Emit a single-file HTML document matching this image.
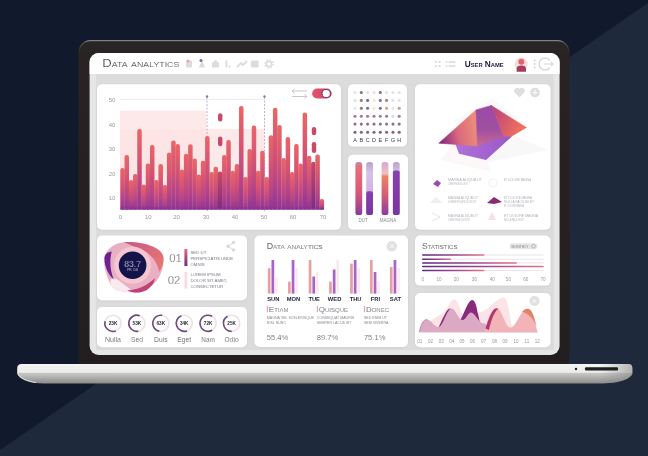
<!DOCTYPE html><html><head><meta charset="utf-8"><style>html,body{margin:0;padding:0;width:648px;height:456px;overflow:hidden;background:#111a2c}svg{display:block;will-change:transform}text{font-family:"Liberation Sans",sans-serif}</style></head><body>
<svg width="648" height="456" viewBox="0 0 648 456">
<defs>
<linearGradient id="gbar" x1="0" y1="0" x2="0" y2="1"><stop offset="0" stop-color="#ea6668"/><stop offset="0.4" stop-color="#d65472"/><stop offset="0.75" stop-color="#b44488"/><stop offset="1" stop-color="#8e3492"/></linearGradient>
<linearGradient id="gbard" x1="0" y1="0" x2="0" y2="1"><stop offset="0" stop-color="#c64a68"/><stop offset="1" stop-color="#7a2c80"/></linearGradient>
<linearGradient id="gbase" x1="0" y1="0" x2="0" y2="1"><stop offset="0" stop-color="#ebebeb"/><stop offset="0.5" stop-color="#e2e2e2"/><stop offset="0.62" stop-color="#b9b9b9"/><stop offset="1" stop-color="#8d8d8d"/></linearGradient>
<linearGradient id="gstat" x1="0" y1="0" x2="1" y2="0"><stop offset="0" stop-color="#5b2a86"/><stop offset="0.6" stop-color="#a84a94"/><stop offset="1" stop-color="#ea7884"/></linearGradient>
<linearGradient id="gbaseh" x1="0" y1="0" x2="1" y2="0"><stop offset="0" stop-color="#808080" stop-opacity="0.35"/><stop offset="0.05" stop-color="#808080" stop-opacity="0"/><stop offset="0.93" stop-color="#808080" stop-opacity="0"/><stop offset="1" stop-color="#707070" stop-opacity="0.45"/></linearGradient>
<linearGradient id="gtog" x1="0" y1="0" x2="1" y2="0"><stop offset="0" stop-color="#e8546a"/><stop offset="1" stop-color="#c8406a"/></linearGradient>
<linearGradient id="gtube1" x1="0" y1="0" x2="0" y2="1"><stop offset="0" stop-color="#f07a6a"/><stop offset="0.6" stop-color="#d0587a"/><stop offset="1" stop-color="#8a3aa0"/></linearGradient>
<linearGradient id="gtube2" x1="0" y1="0" x2="0" y2="1"><stop offset="0" stop-color="#8a40b0"/><stop offset="1" stop-color="#7a36a0"/></linearGradient>
<linearGradient id="gtubel" x1="0" y1="0" x2="0" y2="1"><stop offset="0" stop-color="#b8a0d0"/><stop offset="0.2" stop-color="#d8c0ea"/><stop offset="1" stop-color="#c8a0e0"/></linearGradient>
<linearGradient id="gvbar1" x1="0" y1="0" x2="0" y2="1"><stop offset="0" stop-color="#e46a7a"/><stop offset="1" stop-color="#6a2a8a"/></linearGradient>
<linearGradient id="gbez" x1="0" y1="0" x2="0" y2="1"><stop offset="0" stop-color="#272724"/><stop offset="0.06" stop-color="#2a2224"/><stop offset="1" stop-color="#221e1f"/></linearGradient>
<linearGradient id="grim" x1="0" y1="0" x2="0" y2="1"><stop offset="0" stop-color="#85827f"/><stop offset="0.15" stop-color="#5a5755"/><stop offset="1" stop-color="#2a2626"/></linearGradient>
<filter id="sh" x="-5%" y="-5%" width="110%" height="115%"><feDropShadow dx="0" dy="0.6" stdDeviation="0.8" flood-color="#000" flood-opacity="0.08"/></filter>
</defs>
<rect x="0" y="0" width="648" height="456" fill="#111a2c"/>
<polygon points="648,3 648,456 0,456 0,450" fill="#1f293c"/>
<rect x="78.5" y="40" width="491" height="330" rx="12" fill="url(#gbez)"/>
<path d="M79.2,52 A11.5,11.5 0 0 1 90.7,40.6 H557.3 A11.5,11.5 0 0 1 568.8,52" fill="none" stroke="url(#grim)" stroke-width="1.1"/>
<rect x="89.6" y="53" width="470" height="302" rx="9" fill="#e6e6e6"/>
<rect x="96" y="74" width="458" height="276" fill="#dcdcdc"/>
<path d="M89.6,74 V62 A9,9 0 0 1 98.6,53 H550.6 A9,9 0 0 1 559.6,62 V74 Z" fill="#ffffff"/>
<rect x="97" y="84.2" width="244" height="145.6" rx="5" fill="#ffffff" filter="url(#sh)"/>
<rect x="348" y="84.2" width="59" height="62.4" rx="5" fill="#ffffff" filter="url(#sh)"/>
<rect x="348" y="154.8" width="60" height="74.8" rx="5" fill="#ffffff" filter="url(#sh)"/>
<rect x="415" y="84.2" width="135.5" height="145.6" rx="5" fill="#ffffff" filter="url(#sh)"/>
<rect x="97" y="235.6" width="150" height="64.6" rx="5" fill="#ffffff" filter="url(#sh)"/>
<rect x="97" y="307" width="150" height="40.2" rx="5" fill="#ffffff" filter="url(#sh)"/>
<rect x="254.5" y="235.6" width="153.5" height="111.3" rx="5" fill="#ffffff" filter="url(#sh)"/>
<rect x="415" y="235.6" width="135.5" height="50" rx="5" fill="#ffffff" filter="url(#sh)"/>
<rect x="415" y="293" width="135.5" height="54.2" rx="5" fill="#ffffff" filter="url(#sh)"/>
<text x="102.3" y="67.4" font-size="10.4" fill="#1e1e24" stroke="#ffffff" stroke-width="0.2" style="font-variant:small-caps" textLength="77" lengthAdjust="spacingAndGlyphs">Data analytics</text>
<g fill="#dcdcdc"><rect x="186" y="60.5" width="6" height="7" rx="1"/><circle cx="188" cy="61" r="1.6" fill="#f0a0b0"/><path d="M199,67.5 L202,60 L205,67.5 Z"/><circle cx="201" cy="60.5" r="1.5" fill="#7a6aa0"/><path d="M212,67.5 V63 L215.5,60 L219,63 V67.5 Z"/><rect x="225.5" y="60.5" width="1.8" height="7"/><rect x="228.5" y="65.5" width="1.8" height="2"/></g>
<path d="M237,67 L241,63 L243,65 L247,61" stroke="#dcdcdc" stroke-width="1.8" fill="none"/>
<rect x="251" y="60.5" width="7.5" height="7" rx="1" fill="#dcdcdc"/>
<circle cx="269" cy="64" r="2.6" fill="none" stroke="#dcdcdc" stroke-width="1.6"/><circle cx="269" cy="64" r="4.2" fill="none" stroke="#dcdcdc" stroke-width="1.4" stroke-dasharray="1.6,1.7"/>
<g fill="#e2e2e2"><rect x="435" y="61" width="2" height="2"/><rect x="438.5" y="61" width="2" height="2"/><rect x="435" y="65" width="2" height="2"/><rect x="438.5" y="65" width="2" height="2"/><rect x="445.5" y="61" width="2" height="2"/><rect x="448.5" y="61" width="7" height="2"/><rect x="445.5" y="65" width="2" height="2"/><rect x="448.5" y="65" width="7" height="2"/></g>
<text x="464.7" y="67.1" font-size="8.6" font-weight="bold" fill="#1c1d40" style="font-variant:small-caps" textLength="39" lengthAdjust="spacingAndGlyphs">User Name</text>
<circle cx="521.2" cy="64.2" r="6.6" fill="#f2e0e0"/><circle cx="521.3" cy="61.8" r="3" fill="#e4646c"/><path d="M516.6,71.8 V68.8 Q516.6,65.6 521.3,65.6 Q526,65.6 526,68.8 V71.8 Z" fill="#a83a5c"/>
<g fill="#cfcfcf"><circle cx="534.6" cy="60.5" r="0.9"/><circle cx="534.6" cy="64" r="0.9"/><circle cx="534.6" cy="67.5" r="0.9"/></g>
<path d="M550,60.5 A6,6 0 1 0 550,67.5" fill="none" stroke="#d6d6d6" stroke-width="1.3"/><path d="M544,64 H553 M551,62 L553,64 L551,66" fill="none" stroke="#d6d6d6" stroke-width="1.2"/>
<rect x="120" y="110.6" width="86" height="99.1" fill="#fde9ea"/>
<rect x="120" y="129" width="144" height="80.7" fill="#fce3e5" opacity="0.8"/>
<line x1="120" y1="99.3" x2="264.5" y2="99.3" stroke="#e6e6ea" stroke-width="0.8"/>
<g stroke="#b0a0b4" stroke-width="0.8" stroke-dasharray="2,1.5"><line x1="207" y1="97" x2="207" y2="212"/><line x1="264.5" y1="97" x2="264.5" y2="212"/></g>
<g fill="#8a7aa8"><circle cx="207" cy="96.5" r="1.2"/><circle cx="264.5" cy="96.5" r="1.2"/></g>
<rect x="120.30" y="168.0" width="4.5" height="41.7" rx="2.1" fill="url(#gbar)"/>
<rect x="120.30" y="207.7" width="4.5" height="2" fill="#8c3592"/>
<rect x="124.54" y="155.0" width="4.5" height="54.7" rx="2.1" fill="url(#gbar)"/>
<rect x="124.54" y="207.7" width="4.5" height="2" fill="#8c3592"/>
<rect x="128.78" y="180.0" width="4.5" height="29.7" rx="2.1" fill="url(#gbar)"/>
<rect x="128.78" y="207.7" width="4.5" height="2" fill="#8c3592"/>
<rect x="133.02" y="174.0" width="4.5" height="35.7" rx="2.1" fill="url(#gbar)"/>
<rect x="133.02" y="207.7" width="4.5" height="2" fill="#8c3592"/>
<rect x="137.26" y="129.0" width="4.5" height="80.7" rx="2.1" fill="url(#gbar)"/>
<rect x="137.26" y="207.7" width="4.5" height="2" fill="#8c3592"/>
<rect x="141.50" y="184.5" width="4.5" height="25.2" rx="2.1" fill="url(#gbar)"/>
<rect x="141.50" y="207.7" width="4.5" height="2" fill="#8c3592"/>
<rect x="145.74" y="163.4" width="4.5" height="46.3" rx="2.1" fill="url(#gbar)"/>
<rect x="145.74" y="207.7" width="4.5" height="2" fill="#8c3592"/>
<rect x="149.98" y="145.0" width="4.5" height="64.7" rx="2.1" fill="url(#gbar)"/>
<rect x="149.98" y="207.7" width="4.5" height="2" fill="#8c3592"/>
<rect x="154.22" y="180.0" width="4.5" height="29.7" rx="2.1" fill="url(#gbar)"/>
<rect x="154.22" y="207.7" width="4.5" height="2" fill="#8c3592"/>
<rect x="158.46" y="164.0" width="4.5" height="45.7" rx="2.1" fill="url(#gbar)"/>
<rect x="158.46" y="207.7" width="4.5" height="2" fill="#8c3592"/>
<rect x="162.70" y="185.0" width="4.5" height="24.7" rx="2.1" fill="url(#gbar)"/>
<rect x="162.70" y="207.7" width="4.5" height="2" fill="#8c3592"/>
<rect x="166.94" y="152.5" width="4.5" height="57.2" rx="2.1" fill="url(#gbar)"/>
<rect x="166.94" y="207.7" width="4.5" height="2" fill="#8c3592"/>
<rect x="171.18" y="140.5" width="4.5" height="69.2" rx="2.1" fill="url(#gbar)"/>
<rect x="171.18" y="207.7" width="4.5" height="2" fill="#8c3592"/>
<rect x="175.42" y="144.0" width="4.5" height="65.7" rx="2.1" fill="url(#gbar)"/>
<rect x="175.42" y="207.7" width="4.5" height="2" fill="#8c3592"/>
<rect x="179.66" y="169.5" width="4.5" height="40.2" rx="2.1" fill="url(#gbar)"/>
<rect x="179.66" y="207.7" width="4.5" height="2" fill="#8c3592"/>
<rect x="183.90" y="153.8" width="4.5" height="55.9" rx="2.1" fill="url(#gbar)"/>
<rect x="183.90" y="207.7" width="4.5" height="2" fill="#8c3592"/>
<rect x="188.14" y="144.2" width="4.5" height="65.5" rx="2.1" fill="url(#gbar)"/>
<rect x="188.14" y="207.7" width="4.5" height="2" fill="#8c3592"/>
<rect x="192.38" y="158.5" width="4.5" height="51.2" rx="2.1" fill="url(#gbar)"/>
<rect x="192.38" y="207.7" width="4.5" height="2" fill="#8c3592"/>
<rect x="196.62" y="174.4" width="4.5" height="35.3" rx="2.1" fill="url(#gbar)"/>
<rect x="196.62" y="207.7" width="4.5" height="2" fill="#8c3592"/>
<rect x="200.86" y="160.7" width="4.5" height="49.0" rx="2.1" fill="url(#gbar)"/>
<rect x="200.86" y="207.7" width="4.5" height="2" fill="#8c3592"/>
<rect x="205.10" y="136.0" width="4.5" height="73.7" rx="2.1" fill="url(#gbar)"/>
<rect x="205.10" y="207.7" width="4.5" height="2" fill="#8c3592"/>
<rect x="209.34" y="172.0" width="4.5" height="37.7" rx="2.1" fill="url(#gbar)"/>
<rect x="209.34" y="207.7" width="4.5" height="2" fill="#8c3592"/>
<rect x="213.58" y="166.7" width="4.5" height="43.0" rx="2.1" fill="url(#gbar)"/>
<rect x="213.58" y="207.7" width="4.5" height="2" fill="#8c3592"/>
<rect x="217.82" y="171.6" width="4.5" height="38.1" rx="2.1" fill="url(#gbard)"/>
<rect x="217.82" y="207.7" width="4.5" height="2" fill="#8c3592"/>
<rect x="222.06" y="155.0" width="4.5" height="54.7" rx="2.1" fill="url(#gbar)"/>
<rect x="222.06" y="207.7" width="4.5" height="2" fill="#8c3592"/>
<rect x="226.30" y="140.0" width="4.5" height="69.7" rx="2.1" fill="url(#gbar)"/>
<rect x="226.30" y="207.7" width="4.5" height="2" fill="#8c3592"/>
<rect x="230.54" y="170.8" width="4.5" height="38.9" rx="2.1" fill="url(#gbar)"/>
<rect x="230.54" y="207.7" width="4.5" height="2" fill="#8c3592"/>
<rect x="234.78" y="164.0" width="4.5" height="45.7" rx="2.1" fill="url(#gbar)"/>
<rect x="234.78" y="207.7" width="4.5" height="2" fill="#8c3592"/>
<rect x="239.02" y="106.0" width="4.5" height="103.7" rx="2.1" fill="url(#gbar)"/>
<rect x="239.02" y="207.7" width="4.5" height="2" fill="#8c3592"/>
<rect x="243.26" y="177.0" width="4.5" height="32.7" rx="2.1" fill="url(#gbar)"/>
<rect x="243.26" y="207.7" width="4.5" height="2" fill="#8c3592"/>
<rect x="247.50" y="149.0" width="4.5" height="60.7" rx="2.1" fill="url(#gbar)"/>
<rect x="247.50" y="207.7" width="4.5" height="2" fill="#8c3592"/>
<rect x="251.74" y="125.6" width="4.5" height="84.1" rx="2.1" fill="url(#gbar)"/>
<rect x="251.74" y="207.7" width="4.5" height="2" fill="#8c3592"/>
<rect x="255.98" y="170.8" width="4.5" height="38.9" rx="2.1" fill="url(#gbar)"/>
<rect x="255.98" y="207.7" width="4.5" height="2" fill="#8c3592"/>
<rect x="260.22" y="150.8" width="4.5" height="58.9" rx="2.1" fill="url(#gbar)"/>
<rect x="260.22" y="207.7" width="4.5" height="2" fill="#8c3592"/>
<rect x="264.46" y="177.0" width="4.5" height="32.7" rx="2.1" fill="url(#gbar)"/>
<rect x="264.46" y="207.7" width="4.5" height="2" fill="#8c3592"/>
<rect x="268.70" y="135.2" width="4.5" height="74.5" rx="2.1" fill="url(#gbar)"/>
<rect x="268.70" y="207.7" width="4.5" height="2" fill="#8c3592"/>
<rect x="272.94" y="107.8" width="4.5" height="101.9" rx="2.1" fill="url(#gbar)"/>
<rect x="272.94" y="207.7" width="4.5" height="2" fill="#8c3592"/>
<rect x="277.18" y="125.0" width="4.5" height="84.7" rx="2.1" fill="url(#gbar)"/>
<rect x="277.18" y="207.7" width="4.5" height="2" fill="#8c3592"/>
<rect x="281.42" y="158.0" width="4.5" height="51.7" rx="2.1" fill="url(#gbar)"/>
<rect x="281.42" y="207.7" width="4.5" height="2" fill="#8c3592"/>
<rect x="285.66" y="137.0" width="4.5" height="72.7" rx="2.1" fill="url(#gbar)"/>
<rect x="285.66" y="207.7" width="4.5" height="2" fill="#8c3592"/>
<rect x="289.90" y="172.0" width="4.5" height="37.7" rx="2.1" fill="url(#gbar)"/>
<rect x="289.90" y="207.7" width="4.5" height="2" fill="#8c3592"/>
<rect x="294.14" y="144.0" width="4.5" height="65.7" rx="2.1" fill="url(#gbar)"/>
<rect x="294.14" y="207.7" width="4.5" height="2" fill="#8c3592"/>
<rect x="298.38" y="163.4" width="4.5" height="46.3" rx="2.1" fill="url(#gbar)"/>
<rect x="298.38" y="207.7" width="4.5" height="2" fill="#8c3592"/>
<rect x="302.62" y="112.5" width="4.5" height="97.2" rx="2.1" fill="url(#gbar)"/>
<rect x="302.62" y="207.7" width="4.5" height="2" fill="#8c3592"/>
<rect x="306.86" y="155.8" width="4.5" height="53.9" rx="2.1" fill="url(#gbar)"/>
<rect x="306.86" y="207.7" width="4.5" height="2" fill="#8c3592"/>
<rect x="311.10" y="161.8" width="4.5" height="47.9" rx="2.1" fill="url(#gbard)"/>
<rect x="311.10" y="207.7" width="4.5" height="2" fill="#8c3592"/>
<rect x="315.34" y="154.4" width="4.5" height="55.3" rx="2.1" fill="url(#gbar)"/>
<rect x="315.34" y="207.7" width="4.5" height="2" fill="#8c3592"/>
<rect x="319.58" y="199.0" width="4.5" height="10.7" rx="2.1" fill="url(#gbar)"/>
<rect x="319.58" y="207.7" width="4.5" height="2" fill="#8c3592"/>
<g fill="#c84a68"><rect x="218" y="113.3" width="4.4" height="8.2" rx="2.2"/><rect x="218" y="136.6" width="4.4" height="9.6" rx="2.2"/><rect x="311.8" y="127" width="4.4" height="8.2" rx="2.2"/><rect x="311.8" y="142" width="4.4" height="11" rx="2.2"/></g>
<text x="112" y="101.8" font-size="6" fill="#9a9aa0" text-anchor="middle">50</text>
<text x="112" y="126.60000000000001" font-size="6" fill="#9a9aa0" text-anchor="middle">40</text>
<text x="112" y="151.0" font-size="6" fill="#9a9aa0" text-anchor="middle">30</text>
<text x="112" y="175.79999999999998" font-size="6" fill="#9a9aa0" text-anchor="middle">20</text>
<text x="112" y="200.2" font-size="6" fill="#9a9aa0" text-anchor="middle">10</text>
<text x="120.3" y="219.2" font-size="6" fill="#9a9aa0" text-anchor="middle">0</text>
<text x="148.3" y="219.2" font-size="6" fill="#9a9aa0" text-anchor="middle">10</text>
<text x="176.6" y="219.2" font-size="6" fill="#9a9aa0" text-anchor="middle">20</text>
<text x="206" y="219.2" font-size="6" fill="#9a9aa0" text-anchor="middle">30</text>
<text x="235" y="219.2" font-size="6" fill="#9a9aa0" text-anchor="middle">40</text>
<text x="264" y="219.2" font-size="6" fill="#9a9aa0" text-anchor="middle">50</text>
<text x="293" y="219.2" font-size="6" fill="#9a9aa0" text-anchor="middle">60</text>
<text x="323" y="219.2" font-size="6" fill="#9a9aa0" text-anchor="middle">70</text>
<rect x="312.1" y="88.5" width="19.6" height="10.1" rx="5.05" fill="url(#gtog)"/><circle cx="326.2" cy="93.55" r="4.1" fill="#fff" stroke="#6a2a60" stroke-width="0.9"/>
<g stroke="#c9c9c9" stroke-width="1" fill="none"><path d="M292,91 H307 M294.5,89 L292,91 L294.5,93"/><path d="M292,96.5 H307 M304.5,94.5 L307,96.5 L304.5,98.5"/></g>
<circle cx="355" cy="92.5" r="1.55" fill="#dfe6df"/>
<circle cx="361.3" cy="92.5" r="1.55" fill="#8a7088"/>
<circle cx="367.6" cy="92.5" r="1.55" fill="#e8e0d8"/>
<circle cx="374" cy="92.5" r="1.55" fill="#e6e0e6"/>
<circle cx="380.3" cy="92.5" r="1.55" fill="#8a6a8a"/>
<circle cx="386.6" cy="92.5" r="1.55" fill="#e6e0e6"/>
<circle cx="393" cy="92.5" r="1.55" fill="#e6e0e6"/>
<circle cx="399.2" cy="92.5" r="1.55" fill="#e6e0e6"/>
<circle cx="355" cy="100.4" r="1.55" fill="#dde2ee"/>
<circle cx="361.3" cy="100.4" r="1.55" fill="#a07a80"/>
<circle cx="367.6" cy="100.4" r="1.55" fill="#7a6a98"/>
<circle cx="374" cy="100.4" r="1.55" fill="#eeeacc"/>
<circle cx="380.3" cy="100.4" r="1.55" fill="#8a72a0"/>
<circle cx="386.6" cy="100.4" r="1.55" fill="#b08070"/>
<circle cx="393" cy="100.4" r="1.55" fill="#dde2ee"/>
<circle cx="399.2" cy="100.4" r="1.55" fill="#e6e0e6"/>
<circle cx="355" cy="108.2" r="1.55" fill="#e6e6e6"/>
<circle cx="361.3" cy="108.2" r="1.55" fill="#9a7088"/>
<circle cx="367.6" cy="108.2" r="1.55" fill="#7a6a98"/>
<circle cx="374" cy="108.2" r="1.55" fill="#eeeacc"/>
<circle cx="380.3" cy="108.2" r="1.55" fill="#7a6aa0"/>
<circle cx="386.6" cy="108.2" r="1.55" fill="#d0a080"/>
<circle cx="393" cy="108.2" r="1.55" fill="#e6e6e6"/>
<circle cx="399.2" cy="108.2" r="1.55" fill="#c09aa0"/>
<circle cx="355" cy="116.2" r="1.55" fill="#a07a92"/>
<circle cx="361.3" cy="116.2" r="1.55" fill="#a07a92"/>
<circle cx="367.6" cy="116.2" r="1.55" fill="#a07a92"/>
<circle cx="374" cy="116.2" r="1.55" fill="#a07a92"/>
<circle cx="380.3" cy="116.2" r="1.55" fill="#a07a92"/>
<circle cx="386.6" cy="116.2" r="1.55" fill="#a07a92"/>
<circle cx="393" cy="116.2" r="1.55" fill="#dddddd"/>
<circle cx="399.2" cy="116.2" r="1.55" fill="#a07a92"/>
<circle cx="355" cy="124.1" r="1.55" fill="#927086"/>
<circle cx="361.3" cy="124.1" r="1.55" fill="#927086"/>
<circle cx="367.6" cy="124.1" r="1.55" fill="#927086"/>
<circle cx="374" cy="124.1" r="1.55" fill="#927086"/>
<circle cx="380.3" cy="124.1" r="1.55" fill="#927086"/>
<circle cx="386.6" cy="124.1" r="1.55" fill="#927086"/>
<circle cx="393" cy="124.1" r="1.55" fill="#927086"/>
<circle cx="399.2" cy="124.1" r="1.55" fill="#927086"/>
<circle cx="355" cy="132.3" r="1.55" fill="#86627a"/>
<circle cx="361.3" cy="132.3" r="1.55" fill="#86627a"/>
<circle cx="367.6" cy="132.3" r="1.55" fill="#86627a"/>
<circle cx="374" cy="132.3" r="1.55" fill="#86627a"/>
<circle cx="380.3" cy="132.3" r="1.55" fill="#86627a"/>
<circle cx="386.6" cy="132.3" r="1.55" fill="#86627a"/>
<circle cx="393" cy="132.3" r="1.55" fill="#86627a"/>
<circle cx="399.2" cy="132.3" r="1.55" fill="#86627a"/>
<text x="355" y="141.8" font-size="5.4" fill="#3a3a42" text-anchor="middle">A</text>
<text x="361.3" y="141.8" font-size="5.4" fill="#3a3a42" text-anchor="middle">B</text>
<text x="367.6" y="141.8" font-size="5.4" fill="#3a3a42" text-anchor="middle">C</text>
<text x="374" y="141.8" font-size="5.4" fill="#3a3a42" text-anchor="middle">D</text>
<text x="380.3" y="141.8" font-size="5.4" fill="#3a3a42" text-anchor="middle">E</text>
<text x="386.6" y="141.8" font-size="5.4" fill="#3a3a42" text-anchor="middle">F</text>
<text x="393" y="141.8" font-size="5.4" fill="#3a3a42" text-anchor="middle">G</text>
<text x="399.2" y="141.8" font-size="5.4" fill="#3a3a42" text-anchor="middle">H</text>
<defs><linearGradient id="gt3" x1="0" y1="0" x2="0" y2="1"><stop offset="0" stop-color="#d8a8cc"/><stop offset="0.22" stop-color="#eec0c4"/><stop offset="0.27" stop-color="#f08262"/><stop offset="0.65" stop-color="#d25a78"/><stop offset="1" stop-color="#8a3aa0"/></linearGradient><linearGradient id="gt1" x1="0" y1="0" x2="0" y2="1"><stop offset="0" stop-color="#b090c0"/><stop offset="0.08" stop-color="#e8707a"/><stop offset="0.6" stop-color="#d45878"/><stop offset="1" stop-color="#8a3aa0"/></linearGradient></defs>
<rect x="355.4" y="162" width="6.8" height="53" rx="2.6" fill="url(#gt1)"/>
<rect x="366.2" y="162" width="6.8" height="53" rx="2.6" fill="url(#gtubel)"/><rect x="366.2" y="191.2" width="6.8" height="23.8" rx="2" fill="url(#gtube2)"/>
<rect x="381.6" y="162" width="6.8" height="53" rx="2.6" fill="url(#gt3)"/>
<rect x="392.9" y="162" width="6.8" height="53" rx="2.6" fill="url(#gtubel)"/><rect x="392.9" y="170.4" width="6.8" height="44.6" rx="2" fill="url(#gtube2)"/>
<text x="363.2" y="221.8" font-size="4.5" fill="#8a8a90" text-anchor="middle">DUT</text><text x="388" y="221.8" font-size="4.5" fill="#8a8a90" text-anchor="middle">MAGNA</text>
<defs><linearGradient id="pyl" x1="0" y1="0.5" x2="1" y2="0.3"><stop offset="0" stop-color="#8a2a7e"/><stop offset="0.45" stop-color="#d86a7e"/><stop offset="1" stop-color="#f0907a"/></linearGradient><linearGradient id="pym" x1="0" y1="0" x2="0" y2="1"><stop offset="0" stop-color="#9a4aa6"/><stop offset="0.6" stop-color="#a050a0"/><stop offset="1" stop-color="#c86a90"/></linearGradient><linearGradient id="pyr" x1="0" y1="0" x2="1" y2="0.4"><stop offset="0" stop-color="#b8407a"/><stop offset="1" stop-color="#f0705e"/></linearGradient><linearGradient id="pyq" x1="0" y1="0" x2="1" y2="0"><stop offset="0" stop-color="#b070d8"/><stop offset="1" stop-color="#9a58c8"/></linearGradient></defs>
<g opacity="0.4"><polygon points="452,122 492,98 520,120" fill="#f6f0f0"/><polygon points="500,130 548,150 470,166" fill="#f2eeee"/><polygon points="440,160 468,126 492,172" fill="#f8eef0"/></g>
<polygon points="455,143 459,153.8 486,160 512,136.5 500,134 477,141" fill="url(#pyq)"/>
<polygon points="438.8,143.2 476,109.9 477.4,145.9" fill="url(#pyl)" stroke="url(#pyl)" stroke-width="0.6" stroke-linejoin="round"/>
<polygon points="476,109.9 491.4,105.5 495.8,115.2 503.7,136.2 477.4,145.9" fill="url(#pym)" stroke="url(#pym)" stroke-width="0.6" stroke-linejoin="round"/>
<polygon points="491.4,105.5 526.5,127.5 511.6,136.2 503.7,136.2 495.8,115.2" fill="url(#pyr)" stroke="url(#pyr)" stroke-width="0.5" stroke-linejoin="round"/>
<g fill="#dedede"><path d="M519.5,97.5 L514.8,92.6 A2.6,2.6 0 0 1 519.5,89 A2.6,2.6 0 0 1 524.2,92.6 Z"/><circle cx="535" cy="92.5" r="4.8"/></g><path d="M535,89.8 V95.2 M532.3,92.5 H537.7" stroke="#fff" stroke-width="0.9"/>
<polygon points="433,184 437,180 441,183 438,187" fill="#9a4ab0"/>
<text x="448" y="181.2" font-size="3.3" fill="#b0b0b8" textLength="34" lengthAdjust="spacingAndGlyphs">MAGNA ALIQUA UT</text><text x="448" y="185.1" font-size="3.3" fill="#b0b0b8" textLength="20" lengthAdjust="spacingAndGlyphs">LOREM IPSUM DOLOR SIT</text>
<circle cx="493" cy="183" r="4" fill="none" stroke="#eeeeee" stroke-width="0.8"/>
<text x="504" y="181.2" font-size="3.3" fill="#b0b0b8" textLength="27" lengthAdjust="spacingAndGlyphs">ET DOLORE MAGNA</text>
<polygon points="430,203 436,197 443,203" fill="#eeeeee"/>
<text x="448" y="199.2" font-size="3.3" fill="#b0b0b8" textLength="30" lengthAdjust="spacingAndGlyphs">MAGNA ALIQUA UT</text><text x="448" y="203.1" font-size="3.3" fill="#b0b0b8" textLength="28" lengthAdjust="spacingAndGlyphs">LOREM IPSUM DOLOR SIT</text>
<polygon points="487,203 494,197 502,202 494,204" fill="#8a2a70"/>
<text x="504" y="199.2" font-size="3.3" fill="#b0b0b8" textLength="28" lengthAdjust="spacingAndGlyphs">ET DOLORE MAGNA</text><text x="504" y="203.1" font-size="3.3" fill="#b0b0b8" textLength="30" lengthAdjust="spacingAndGlyphs">NULLA FACILISI ET</text><text x="504" y="207.0" font-size="3.3" fill="#b0b0b8" textLength="20" lengthAdjust="spacingAndGlyphs">ET DOLORE MAGNA</text>
<path d="M432,213 L440,217 L432,221" fill="none" stroke="#dddddd" stroke-width="0.8"/>
<text x="448" y="216.8" font-size="3.3" fill="#b0b0b8" textLength="30" lengthAdjust="spacingAndGlyphs">MAGNA ALIQUA UT</text><text x="448" y="220.7" font-size="3.3" fill="#b0b0b8" textLength="22" lengthAdjust="spacingAndGlyphs">LOREM IPSUM DOLOR SIT</text>
<polygon points="492,212 496,220 488,220" fill="#f8e0e6"/>
<text x="504" y="216.8" font-size="3.3" fill="#b0b0b8" textLength="34" lengthAdjust="spacingAndGlyphs">ET DOLORE MAGNA</text><text x="504" y="220.7" font-size="3.3" fill="#b0b0b8" textLength="20" lengthAdjust="spacingAndGlyphs">NULLA FACILISI ET</text>
<defs><linearGradient id="gcr" x1="0" y1="0" x2="1" y2="1"><stop offset="0" stop-color="#c85a86"/><stop offset="1" stop-color="#ec7a72"/></linearGradient></defs>
<path d="M104.4,258.3 C106,247 118,241 129,242 C143,242 163,247 163.5,258 C164,270 158,282 151,286 C146,290 140,293 134,292.5 C125,292 113,291 111,285 C107,277 103,266 104.4,258.3 Z" fill="#e9b0c4"/>
<path d="M111,285 C109,279 112,276 118,280 C123,284 128,287 134,292.5 C125,292 113,291 111,285 Z" fill="#faeaee"/>
<path d="M124,242.3 C140,241 163,247 163.5,258 C163.7,264 162,268 159,272 C158,262 150,252 138,248 C132,246 128,244 124,242.3 Z" fill="url(#gcr)"/>
<path d="M104.5,257 C105.5,253.5 108,252 111.8,251.5 C109.5,259 109.8,270 113.8,279.5 C108.5,275 104,266 104.5,257 Z" fill="#6e2290"/>
<path d="M127,290.5 C138,290 148,285 155,278 C154,284 150,288 146,290.5 C141,293 134,293.5 127,290.5 Z" fill="#c0407a"/>
<circle cx="132.6" cy="265.3" r="18.5" fill="#f3c6d2"/>
<circle cx="132.6" cy="265.3" r="13.8" fill="#15144a"/>
<text x="132.6" y="266.6" font-size="8.6" fill="#f0ecf6" stroke="#15144a" stroke-width="0.25" text-anchor="middle">83.7</text><text x="132.6" y="270.6" font-size="3.2" fill="#cfcfe0" text-anchor="middle">PR. DU</text>
<text x="175.5" y="262" font-size="11.4" fill="#50505a" stroke="#fff" stroke-width="0.3" text-anchor="middle">01</text><text x="174" y="283.8" font-size="11.4" fill="#50505a" stroke="#fff" stroke-width="0.3" text-anchor="middle">02</text>
<rect x="184.4" y="249" width="3" height="17" fill="url(#gvbar1)"/><rect x="184.4" y="272" width="3" height="16.6" fill="#f6dde2"/>
<g font-size="4.3" fill="#7a7a84"><text x="190.5" y="254.2">SED UT</text><text x="190.5" y="259.6">PERSPICIATIS UNDE</text><text x="190.5" y="265.6">OMNIS</text><text x="190.5" y="276.3">LOREM IPSUM</text><text x="190.5" y="282.3">DOLOR SIT AMET,</text><text x="190.5" y="288.3">CONSECTETUR</text></g>
<g fill="#d6d6d6" stroke="#d6d6d6" stroke-width="0.8"><circle cx="233.5" cy="242.5" r="1.3"/><circle cx="228" cy="246.2" r="1.3"/><circle cx="233.5" cy="250" r="1.3"/><path d="M233.5,242.5 L228,246.2 L233.5,250" fill="none"/></g>
<circle cx="113" cy="323.3" r="8.1" fill="none" stroke="#eee0e8" stroke-width="1.6"/>
<path d="M115.77,330.91 A8.1,8.1 0 0 1 105.18,321.20" fill="none" stroke="#6e4a80" stroke-width="1.6"/>
<text x="113" y="325.1" font-size="4.7" font-weight="bold" fill="#2a2a34" text-anchor="middle" textLength="8.6" lengthAdjust="spacingAndGlyphs">23K</text>
<text x="113" y="341.8" font-size="7" fill="#5a5a62" stroke="#fff" stroke-width="0.12" text-anchor="middle" textLength="16" lengthAdjust="spacingAndGlyphs">Nulla</text>
<circle cx="136.9" cy="323.3" r="8.1" fill="none" stroke="#eee0e8" stroke-width="1.6"/>
<path d="M138.31,331.28 A8.1,8.1 0 1 1 139.67,315.69" fill="none" stroke="#6e4a80" stroke-width="1.6"/>
<text x="136.9" y="325.1" font-size="4.7" font-weight="bold" fill="#2a2a34" text-anchor="middle" textLength="8.6" lengthAdjust="spacingAndGlyphs">53K</text>
<text x="136.9" y="341.8" font-size="7" fill="#5a5a62" stroke="#fff" stroke-width="0.12" text-anchor="middle" textLength="12" lengthAdjust="spacingAndGlyphs">Sed</text>
<circle cx="160.8" cy="323.3" r="8.1" fill="none" stroke="#eee0e8" stroke-width="1.6"/>
<path d="M159.39,331.28 A8.1,8.1 0 0 1 162.21,315.32" fill="none" stroke="#6e4a80" stroke-width="1.6"/>
<text x="160.8" y="325.1" font-size="4.7" font-weight="bold" fill="#2a2a34" text-anchor="middle" textLength="8.6" lengthAdjust="spacingAndGlyphs">63K</text>
<text x="160.8" y="341.8" font-size="7" fill="#5a5a62" stroke="#fff" stroke-width="0.12" text-anchor="middle" textLength="13.5" lengthAdjust="spacingAndGlyphs">Duis</text>
<circle cx="184.2" cy="323.3" r="8.1" fill="none" stroke="#eee0e8" stroke-width="1.6"/>
<path d="M186.97,330.91 A8.1,8.1 0 0 1 181.43,315.69" fill="none" stroke="#6e4a80" stroke-width="1.6"/>
<text x="184.2" y="325.1" font-size="4.7" font-weight="bold" fill="#2a2a34" text-anchor="middle" textLength="8.6" lengthAdjust="spacingAndGlyphs">34K</text>
<text x="184.2" y="341.8" font-size="7" fill="#5a5a62" stroke="#fff" stroke-width="0.12" text-anchor="middle" textLength="14" lengthAdjust="spacingAndGlyphs">Eget</text>
<circle cx="208.1" cy="323.3" r="8.1" fill="none" stroke="#eee0e8" stroke-width="1.6"/>
<path d="M212.15,330.31 A8.1,8.1 0 1 1 212.15,316.29" fill="none" stroke="#6e4a80" stroke-width="1.6"/>
<text x="208.1" y="325.1" font-size="4.7" font-weight="bold" fill="#2a2a34" text-anchor="middle" textLength="8.6" lengthAdjust="spacingAndGlyphs">72K</text>
<text x="208.1" y="341.8" font-size="7" fill="#5a5a62" stroke="#fff" stroke-width="0.12" text-anchor="middle" textLength="13.5" lengthAdjust="spacingAndGlyphs">Nam</text>
<circle cx="231.6" cy="323.3" r="8.1" fill="none" stroke="#eee0e8" stroke-width="1.6"/>
<path d="M231.60,331.40 A8.1,8.1 0 0 1 227.55,316.29" fill="none" stroke="#6e4a80" stroke-width="1.6"/>
<text x="231.6" y="325.1" font-size="4.7" font-weight="bold" fill="#2a2a34" text-anchor="middle" textLength="8.6" lengthAdjust="spacingAndGlyphs">25K</text>
<text x="231.6" y="341.8" font-size="7" fill="#5a5a62" stroke="#fff" stroke-width="0.12" text-anchor="middle" textLength="14" lengthAdjust="spacingAndGlyphs">Odio</text>
<text x="266.7" y="249.2" font-size="8.2" fill="#2a2a34" stroke="#fff" stroke-width="0.16" style="font-variant:small-caps" textLength="56" lengthAdjust="spacingAndGlyphs">Data analytics</text>
<circle cx="391.8" cy="246.2" r="5.2" fill="#e0e0e0"/><path d="M389.8,244.2 L393.8,248.2 M393.8,244.2 L389.8,248.2" stroke="#fff" stroke-width="0.8"/>
<rect x="267.8" y="268.2" width="2.7" height="25.4" fill="#e8a0a0"/>
<rect x="271.5" y="260" width="2.7" height="33.6" fill="#a862c8"/>
<rect x="275.0" y="277.3" width="2.7" height="16.3" fill="#faeaf0"/>
<text x="273.3" y="300.8" font-size="5.8" font-weight="bold" fill="#1e2140" text-anchor="middle">SUN</text>
<rect x="288.0" y="281.7" width="2.7" height="11.9" fill="#e8a0a0"/>
<rect x="291.7" y="260" width="2.7" height="33.6" fill="#a862c8"/>
<rect x="295.2" y="268" width="2.7" height="25.6" fill="#faeaf0"/>
<text x="293.5" y="300.8" font-size="5.8" font-weight="bold" fill="#1e2140" text-anchor="middle">MON</text>
<rect x="308.7" y="260" width="2.7" height="33.6" fill="#e8a0a0"/>
<rect x="312.4" y="276.5" width="2.7" height="17.1" fill="#a862c8"/>
<rect x="315.9" y="272" width="2.7" height="21.6" fill="#faeaf0"/>
<text x="314.2" y="300.8" font-size="5.8" font-weight="bold" fill="#1e2140" text-anchor="middle">TUE</text>
<rect x="329.1" y="281.7" width="2.7" height="11.9" fill="#e8a0a0"/>
<rect x="332.8" y="269.5" width="2.7" height="24.1" fill="#a862c8"/>
<rect x="336.3" y="260" width="2.7" height="33.6" fill="#faeaf0"/>
<text x="334.6" y="300.8" font-size="5.8" font-weight="bold" fill="#1e2140" text-anchor="middle">WED</text>
<rect x="350.1" y="263.6" width="2.7" height="30.0" fill="#e8a0a0"/>
<rect x="353.8" y="260" width="2.7" height="33.6" fill="#a862c8"/>
<rect x="357.3" y="268" width="2.7" height="25.6" fill="#faeaf0"/>
<text x="355.6" y="300.8" font-size="5.8" font-weight="bold" fill="#1e2140" text-anchor="middle">THU</text>
<rect x="370.0" y="260" width="2.7" height="33.6" fill="#e8a0a0"/>
<rect x="373.7" y="272" width="2.7" height="21.6" fill="#a862c8"/>
<rect x="377.2" y="281" width="2.7" height="12.6" fill="#faeaf0"/>
<text x="375.5" y="300.8" font-size="5.8" font-weight="bold" fill="#1e2140" text-anchor="middle">FRI</text>
<rect x="389.9" y="267" width="2.7" height="26.6" fill="#e8a0a0"/>
<rect x="393.6" y="260" width="2.7" height="33.6" fill="#a862c8"/>
<rect x="397.1" y="268" width="2.7" height="25.6" fill="#faeaf0"/>
<text x="395.4" y="300.8" font-size="5.8" font-weight="bold" fill="#1e2140" text-anchor="middle">SAT</text>
<rect x="266.8" y="306" width="1.2" height="6.2" fill="#f0a0b0"/>
<text x="268.8" y="312.3" font-size="8" fill="#44444e" stroke="#fff" stroke-width="0.18" style="font-variant:small-caps">Etiam</text>
<text x="266.8" y="318.8" font-size="3.6" fill="#8a8a92">MAGNA VEL SCELERISQUE</text><text x="266.8" y="324.4" font-size="3.6" fill="#8a8a92">NISL NUNC</text>
<text x="266.8" y="339.6" font-size="7.6" fill="#44444e" stroke="#fff" stroke-width="0.2">55.4%</text>
<rect x="316.8" y="306" width="1.2" height="6.2" fill="#f0a0b0"/>
<text x="318.8" y="312.3" font-size="8" fill="#44444e" stroke="#fff" stroke-width="0.18" style="font-variant:small-caps">Quisque</text>
<text x="316.8" y="318.8" font-size="3.6" fill="#8a8a92">CONSEQUAT MAURIS</text><text x="316.8" y="324.4" font-size="3.6" fill="#8a8a92">SEMPER LACUS SIT</text>
<text x="316.8" y="339.6" font-size="7.6" fill="#44444e" stroke="#fff" stroke-width="0.2">89.7%</text>
<rect x="363.9" y="306" width="1.2" height="6.2" fill="#f0a0b0"/>
<text x="365.9" y="312.3" font-size="8" fill="#44444e" stroke="#fff" stroke-width="0.18" style="font-variant:small-caps">Donec</text>
<text x="363.9" y="318.8" font-size="3.6" fill="#8a8a92">SED ENIM UT</text><text x="363.9" y="324.4" font-size="3.6" fill="#8a8a92">SEM VIVERRA</text>
<text x="363.9" y="339.6" font-size="7.6" fill="#44444e" stroke="#fff" stroke-width="0.2">75.1%</text>
<text x="422" y="249.2" font-size="8.4" fill="#2a2a34" stroke="#fff" stroke-width="0.16" style="font-variant:small-caps" textLength="35.5" lengthAdjust="spacingAndGlyphs">Statistics</text>
<rect x="509.5" y="243.2" width="28" height="6" rx="3" fill="#e6e6e6"/><text x="520" y="247.6" font-size="3.5" fill="#8a8a92" text-anchor="middle">MONTHLY</text><circle cx="533.5" cy="246.2" r="1.8" fill="none" stroke="#9a9a9a" stroke-width="0.6"/>
<rect x="422" y="254.5" width="121.8" height="1" fill="#ece2ea"/>
<rect x="422" y="254.25" width="62.5" height="1.5" rx="0.75" fill="url(#gstat)"/>
<rect x="422" y="258.7" width="121.8" height="1" fill="#ece2ea"/>
<rect x="422" y="258.45" width="29.19999999999999" height="1.5" rx="0.75" fill="url(#gstat)"/>
<rect x="422" y="262.4" width="121.8" height="1" fill="#ece2ea"/>
<rect x="422" y="262.15" width="95" height="1.5" rx="0.75" fill="url(#gstat)"/>
<rect x="422" y="266.1" width="121.8" height="1" fill="#ece2ea"/>
<rect x="422" y="265.85" width="121.79999999999995" height="1.5" rx="0.75" fill="url(#gstat)"/>
<rect x="422" y="270.0" width="121.8" height="1" fill="#ece2ea"/>
<rect x="422" y="269.75" width="62.5" height="1.5" rx="0.75" fill="url(#gstat)"/>
<text x="422.7" y="280.5" font-size="4.6" fill="#9a9aa0" text-anchor="middle">0</text>
<text x="439" y="280.5" font-size="4.6" fill="#9a9aa0" text-anchor="middle">10</text>
<text x="456.3" y="280.5" font-size="4.6" fill="#9a9aa0" text-anchor="middle">20</text>
<text x="474.4" y="280.5" font-size="4.6" fill="#9a9aa0" text-anchor="middle">30</text>
<text x="492.2" y="280.5" font-size="4.6" fill="#9a9aa0" text-anchor="middle">40</text>
<text x="508.4" y="280.5" font-size="4.6" fill="#9a9aa0" text-anchor="middle">50</text>
<text x="525.7" y="280.5" font-size="4.6" fill="#9a9aa0" text-anchor="middle">60</text>
<text x="543" y="280.5" font-size="4.6" fill="#9a9aa0" text-anchor="middle">70</text>
<path d="M419,332 C426,322 436,318 444,312 C449,306 451,299.6 454.5,299.6 C459,299.6 461,318 467,318 C474,318 476,312 480,312 C488,312 496,297.4 503.5,297.4 C510,297.4 509,328 514,328 C520,328 522,315 527,315 L537,332 Z" fill="#fbe3e6"/>
<path d="M436,332 C440,326 446,308.4 449.8,308.4 C453,308.4 455,318 458,322 C462,322 467,300 472.2,300 C476,300 477,310 478,314 L482,332 Z" fill="#8a2a7c"/>
<path d="M419.3,332 C421,324 423,319.5 427.2,319.5 C431,319.5 434,327 438.3,327 C443,327 447,308.4 451.3,308.4 C456,308.4 458,320 462.4,320 C466,320 468,312.5 471,312.5 C475,312.5 479,323.3 483,323.3 C487,323.3 490,332 492,332 Z" fill="#dba9c4"/>
<path d="M419.3,332 C421,324 423,319.5 427.2,319.5" fill="none" stroke="#9a6a9a" stroke-width="0.6"/>
<path d="M484,332 C488,326 492,308.2 497,308.2 C502,308.2 505,327.6 510.5,327.6 C516,327.6 521,308.7 527.2,308.7 C533,308.7 535,322 537.5,332 Z" fill="#f2b4b8"/>
<path d="M485.5,328.5 C488,320 492,308.2 496.2,308.2 C497,308.2 497.6,308.4 498.2,308.8 C494,312 491,321 489,330 Z" fill="#b2376e"/>
<path d="M522,312 C524,309.5 525.5,308.7 527.2,308.7 C532,308.7 534,316 536.5,326 C533,318 528,313 522,312 Z" fill="#e28266"/>
<rect x="419" y="331.5" width="118.5" height="1" fill="#eab0bc"/>
<circle cx="534.5" cy="301" r="5" fill="#e0e0e0"/><path d="M532.7,299.2 L536.3,302.8 M536.3,299.2 L532.7,302.8" stroke="#fff" stroke-width="0.8"/>
<text x="419.7" y="342.6" font-size="4.5" fill="#9a9aa0" text-anchor="middle">01</text>
<text x="430.4" y="342.6" font-size="4.5" fill="#9a9aa0" text-anchor="middle">02</text>
<text x="441.3" y="342.6" font-size="4.5" fill="#9a9aa0" text-anchor="middle">03</text>
<text x="451.7" y="342.6" font-size="4.5" fill="#9a9aa0" text-anchor="middle">04</text>
<text x="462" y="342.6" font-size="4.5" fill="#9a9aa0" text-anchor="middle">05</text>
<text x="472.5" y="342.6" font-size="4.5" fill="#9a9aa0" text-anchor="middle">06</text>
<text x="483.6" y="342.6" font-size="4.5" fill="#9a9aa0" text-anchor="middle">07</text>
<text x="494.5" y="342.6" font-size="4.5" fill="#9a9aa0" text-anchor="middle">08</text>
<text x="505" y="342.6" font-size="4.5" fill="#9a9aa0" text-anchor="middle">09</text>
<text x="516" y="342.6" font-size="4.5" fill="#9a9aa0" text-anchor="middle">10</text>
<text x="526.9" y="342.6" font-size="4.5" fill="#9a9aa0" text-anchor="middle">11</text>
<text x="537.3" y="342.6" font-size="4.5" fill="#9a9aa0" text-anchor="middle">12</text>
<defs><linearGradient id="gtop" x1="0" y1="0" x2="0" y2="1"><stop offset="0" stop-color="#f4f4f2"/><stop offset="0.8" stop-color="#ececea"/><stop offset="1" stop-color="#dcdcda"/></linearGradient><linearGradient id="glip" x1="0" y1="0" x2="0" y2="1"><stop offset="0" stop-color="#c8c8c6"/><stop offset="0.5" stop-color="#a8a8a6"/><stop offset="1" stop-color="#8a8a88"/></linearGradient><linearGradient id="gendr" x1="0" y1="0" x2="1" y2="0"><stop offset="0" stop-color="#888" stop-opacity="0"/><stop offset="0.55" stop-color="#888" stop-opacity="0"/><stop offset="1" stop-color="#777" stop-opacity="0.5"/></linearGradient></defs>
<path d="M17,373.5 H632.3 C631,378 622,383.6 598,383.6 H44 C28,383.6 18.5,378.5 17,373.5 Z" fill="url(#glip)"/>
<path d="M21.5,364 H628.3 A4,4 0 0 1 632.3,368 V373.8 H17.2 V368.5 A4.5,4.5 0 0 1 21.5,364 Z" fill="url(#gtop)"/>
<path d="M18,373.5 C19.5,377.5 26,381 36,382.6" fill="none" stroke="#e8e8e6" stroke-width="0.9"/>
<path d="M560,364 H628.3 A4,4 0 0 1 632.3,368 V373.8 C631,378 622,383.6 598,383.6 H560 Z" fill="url(#gendr)"/>
<circle cx="576" cy="369" r="1.2" fill="#222"/><rect x="585" y="367.3" width="33" height="3.2" rx="1" fill="#1e1e1e"/>
</svg></body></html>
